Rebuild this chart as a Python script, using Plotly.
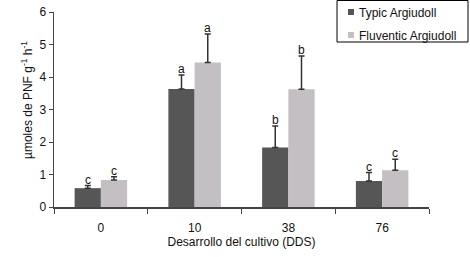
import plotly.graph_objects as go

categories = ["0", "10", "38", "76"]
series_names = ["Typic Argiudoll", "Fluventic Argiudoll"]
typic_values = [0.58, 3.63, 1.83, 0.80]
typic_err = [0.08, 0.43, 0.66, 0.26]
fluventic_values = [0.83, 4.45, 3.62, 1.13]
fluventic_err = [0.10, 0.87, 1.03, 0.34]
typic_letters = ["c", "a", "b", "c"]
fluventic_letters = ["c", "a", "b", "c"]
y_ticks = [0, 1, 2, 3, 4, 5, 6]

colors = ["#565656", "#c3bfc3"]
FONT = "Liberation Sans"

W, H = 470, 257
L, R, T, B = 54, 41, 12, 50
PW, PH = W - L - R, H - T - B


def px(x):
    return (x - L) / PW


def py(y):
    return (H - B - y) / PH


fig = go.Figure()
for name, vals, errs, col in [
    (series_names[0], typic_values, typic_err, colors[0]),
    (series_names[1], fluventic_values, fluventic_err, colors[1]),
]:
    fig.add_trace(go.Bar(
        x=categories, y=vals, name=name, marker=dict(color=col, line=dict(width=0)),
        error_y=dict(type="data", array=errs, arrayminus=[0] * len(errs), symmetric=False,
                     color="#333333", thickness=1.5, width=3),
        showlegend=False, hoverinfo="skip",
    ))

annotations = []
for letters, vals, errs, shift in [
    (typic_letters, typic_values, typic_err, -13),
    (fluventic_letters, fluventic_values, fluventic_err, 13),
]:
    for i, (lt, v, e) in enumerate(zip(letters, vals, errs)):
        annotations.append(dict(x=i, y=v + e, xref="x", yref="y", text=lt, showarrow=False,
                                xshift=shift, yanchor="bottom", yshift=-3,
                                font=dict(family=FONT, size=12, color="#111111")))

# y-axis title
annotations.append(dict(x=px(17), y=py(100), xref="paper", yref="paper",
                        text="µmoles de PNF g<sup>-1</sup> h<sup>-1</sup>", textangle=-90,
                        showarrow=False, font=dict(family=FONT, size=12, color="#111111")))

# custom legend
shapes = [dict(type="rect", xref="paper", yref="paper", x0=px(337), x1=px(468), y0=py(42), y1=py(0.5),
               line=dict(color="#000000", width=1), fillcolor="white")]
for i, (name, col) in enumerate(zip(series_names, colors)):
    cy = 12 + i * 23
    shapes.append(dict(type="rect", xref="paper", yref="paper", x0=px(348), x1=px(354),
                       y0=py(cy + 3), y1=py(cy - 3), line=dict(width=0), fillcolor=col))
    annotations.append(dict(x=px(357), y=py(cy + 1), xref="paper", yref="paper", text=name,
                            xanchor="left", yanchor="middle", showarrow=False,
                            font=dict(family=FONT, size=12, color="#111111")))

fig.update_layout(
    width=W, height=H, margin=dict(l=L, r=R, t=T, b=B, autoexpand=False),
    plot_bgcolor="white", paper_bgcolor="white",
    barmode="group", bargap=0.44, bargroupgap=0,
    font=dict(family=FONT, size=12, color="#111111"),
    xaxis=dict(range=[-0.5, 3.5], showline=True, linecolor="#444444", linewidth=1.5,
               ticks="outside", tickson="boundaries", ticklen=5, tickcolor="#444444",
               title=dict(text="Desarrollo del cultivo (DDS)", standoff=0,
                          font=dict(family=FONT, size=12)),
               ticklabelstandoff=9, showgrid=False, zeroline=False, automargin=False),
    yaxis=dict(range=[0, 6], tickvals=y_ticks, showline=True, linecolor="#444444", linewidth=1.5,
               ticks="outside", ticklen=4, tickcolor="#444444", showgrid=False, zeroline=False,
               automargin=False),
    annotations=annotations, shapes=shapes,
)

fig.write_html("out.html", config={"displayModeBar": False, "staticPlot": True},
               post_script="document.body.style.margin='0';document.body.style.padding='0';")
